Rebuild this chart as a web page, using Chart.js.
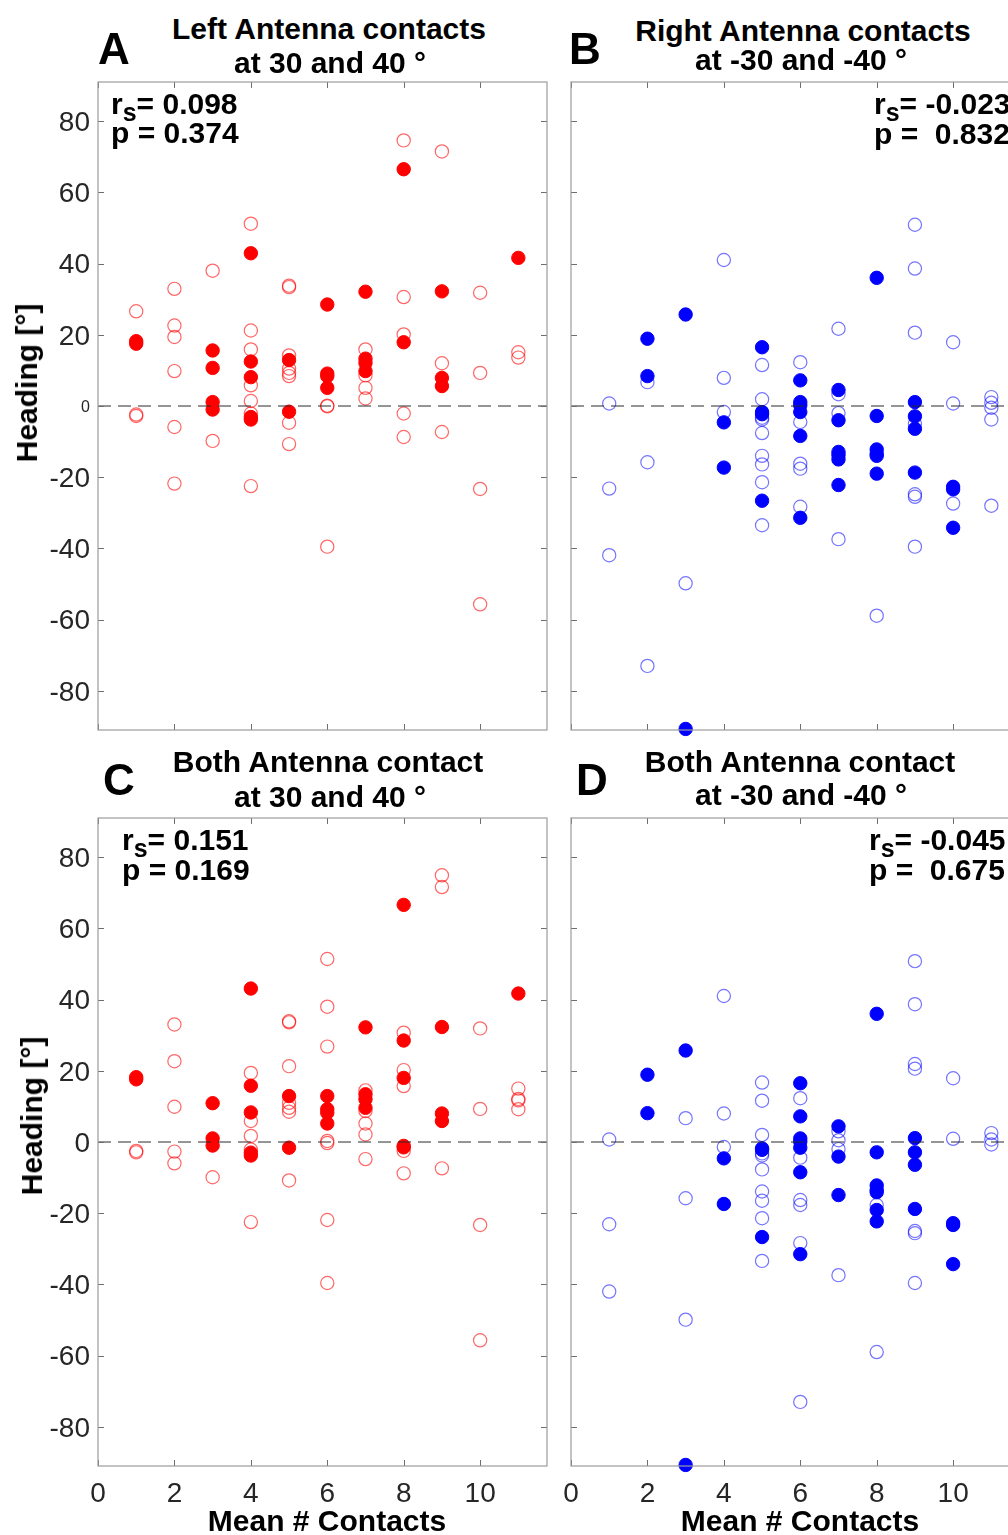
<!DOCTYPE html>
<html>
<head>
<meta charset="utf-8">
<script src="https://cdn.jsdelivr.net/npm/chart.js@4.4.1/dist/chart.umd.min.js"></script>
<style>
  html, body { margin: 0; padding: 0; width: 1008px; height: 1535px; overflow: hidden; background: #fff; }
  body { position: relative; font-family: "Liberation Sans", Arial, Helvetica, sans-serif; color: #000; }
  canvas { position: absolute; }
  .lbl { position: absolute; white-space: pre; font-weight: bold; transform: translate(-50%, -50%); line-height: 1; }
  .title { font-size: 30px; }
  .letter { font-size: 44px; }
  .axt { font-size: 30px; }
  .stat { position: absolute; white-space: pre; font-weight: bold; font-size: 30px; }
  .stat sub { font-size: 25px; vertical-align: baseline; position: relative; top: 7px; line-height: 0; }
</style>
</head>
<body>
<canvas id="cA"></canvas>
<canvas id="cB"></canvas>
<canvas id="cC"></canvas>
<canvas id="cD"></canvas>

<div class="lbl letter" style="left:114px;top:49px">A</div>
<div class="lbl letter" style="left:585px;top:49px">B</div>
<div class="lbl letter" style="left:119px;top:780px">C</div>
<div class="lbl letter" style="left:592px;top:780px">D</div>

<div class="lbl title" style="left:329px;top:29px">Left Antenna contacts</div>
<div class="lbl title" style="left:330px;top:63px">at 30 and 40 °</div>
<div class="lbl title" style="left:803px;top:31px">Right Antenna contacts</div>
<div class="lbl title" style="left:801px;top:60px">at -30 and -40 °</div>
<div class="lbl title" style="left:328px;top:762px">Both Antenna contact</div>
<div class="lbl title" style="left:330px;top:797px">at 30 and 40 °</div>
<div class="lbl title" style="left:800px;top:762px">Both Antenna contact</div>
<div class="lbl title" style="left:801px;top:795px">at -30 and -40 °</div>

<div class="stat" style="left:111px;top:89px;line-height:29px">r<sub>s</sub>= 0.098
p = 0.374</div>
<div class="stat" style="left:874px;top:89px;line-height:30px">r<sub>s</sub>= -0.023
p =  0.832</div>
<div class="stat" style="left:122px;top:825px;line-height:30px">r<sub>s</sub>= 0.151
p = 0.169</div>
<div class="stat" style="left:869px;top:825px;line-height:30px">r<sub>s</sub>= -0.045
p =  0.675</div>

<div class="lbl axt" style="left:27px;top:383px;transform:translate(-50%,-50%) rotate(-90deg)">Heading [°]</div>
<div class="lbl axt" style="left:32px;top:1116px;transform:translate(-50%,-50%) rotate(-90deg)">Heading [°]</div>
<div class="lbl axt" style="left:327px;top:1521px">Mean # Contacts</div>
<div class="lbl axt" style="left:800px;top:1521px">Mean # Contacts</div>

<script>
// axis ticks
const xTicks = [0, 2, 4, 6, 8, 10];
const yTicks = [-80, -60, -40, -20, 0, 20, 40, 60, 80];

// [mean # contacts, heading] - filled = solid markers, open = hollow markers
const leftFilled = [
  [1, 18.2], [1, 17.5],
  [3, 15.6], [3, 10.7], [3, 1.1], [3, -1.0],
  [4, 42.9], [4, 12.5], [4, 8.1], [4, -3.1], [4, -3.8],
  [5, 12.9], [5, -1.6],
  [6, 28.5], [6, 9.1], [6, 8.4], [6, 5.1],
  [7, 32.1], [7, 13.3], [7, 12.1], [7, 9.8],
  [8, 66.5], [8, 17.9],
  [9, 32.2], [9, 7.9], [9, 5.6],
  [11, 41.6]
];
const leftOpen = [
  [1, 26.6], [1, -2.4], [1, -2.8],
  [2, 32.9], [2, 22.6], [2, 19.4], [2, 9.8], [2, -5.9], [2, -21.8],
  [3, 38.0], [3, -9.8],
  [4, 51.2], [4, 21.2], [4, 15.9], [4, 5.8], [4, 1.4], [4, -2.1], [4, -22.5],
  [5, 33.4], [5, 33.8], [5, 14.2], [5, 10.5], [5, 9.3], [5, 8.4], [5, -4.7], [5, -10.7],
  [6, 0.1], [6, -0.1], [6, -39.5],
  [7, 15.9], [7, 8.6], [7, 5.1], [7, 2.1],
  [8, 74.6], [8, 30.6], [8, 20.1], [8, -2.1], [8, -8.7],
  [9, 71.5], [9, 12.0], [9, -7.3],
  [10, 31.8], [10, 9.3], [10, -23.3], [10, -55.7],
  [11, 15.1], [11, 13.6]
];

const rightFilled = [
  [2, 18.9], [2, 8.4],
  [3, 25.7], [3, -90.7],
  [4, -4.6], [4, -17.3],
  [5, 16.5], [5, -1.7], [5, -2.3], [5, -26.6],
  [6, 7.2], [6, 1.1], [6, 0.2], [6, -1.7], [6, -8.4], [6, -31.4],
  [7, 4.5], [7, -4.0], [7, -12.9], [7, -13.8], [7, -15.0], [7, -22.2],
  [8, 36.0], [8, -2.8], [8, -12.2], [8, -13.4], [8, -14.0], [8, -19.0],
  [9, 1.1], [9, -2.9], [9, -6.4], [9, -18.7],
  [10, -22.7], [10, -23.4], [10, -34.2]
];
const rightOpen = [
  [1, 0.7], [1, -23.2], [1, -41.9],
  [2, 6.7], [2, -15.8], [2, -73.0],
  [3, -49.8],
  [4, 41.0], [4, 7.9], [4, -1.7],
  [5, 11.5], [5, 1.9], [5, -3.3], [5, -3.8], [5, -7.6], [5, -14.0], [5, -16.4], [5, -21.4], [5, -33.5],
  [6, 12.3], [6, -4.5], [6, -16.2], [6, -17.6], [6, -28.3],
  [7, 21.7], [7, 3.3], [7, -2.0], [7, -37.4],
  [8, -58.9],
  [9, 50.9], [9, 38.6], [9, 20.6], [9, -5.0], [9, -24.8], [9, -25.5], [9, -39.5],
  [10, 17.9], [10, 0.7], [10, -27.4],
  [11, 2.5], [11, 0.9], [11, -0.5], [11, -3.8], [11, -28.0]
];

const bothPosFilled = [
  [1, 18.2], [1, 17.6],
  [3, 10.9], [3, 1.0], [3, -1.0],
  [4, 43.1], [4, 15.8], [4, 8.3], [4, -3.0], [4, -3.8],
  [5, 12.9], [5, -1.6],
  [6, 12.9], [6, 9.2], [6, 8.2], [6, 5.2],
  [7, 32.2], [7, 13.4], [7, 12.0], [7, 9.6],
  [8, 66.6], [8, 28.5], [8, 18.0], [8, -1.1], [8, -1.5],
  [9, 32.3], [9, 8.0], [9, 5.9],
  [11, 41.7]
];
const bothPosOpen = [
  [1, -2.5], [1, -2.9],
  [2, 33.0], [2, 22.7], [2, 9.9], [2, -2.7], [2, -6.0],
  [3, -9.9],
  [4, 19.4], [4, 5.9], [4, 1.7], [4, -2.1], [4, -22.5],
  [5, 33.6], [5, 33.9], [5, 21.3], [5, 11.0], [5, 9.6], [5, 8.5], [5, -10.8],
  [6, 51.4], [6, 38.0], [6, 26.8], [6, 0.3], [6, -0.3], [6, -21.9], [6, -39.6],
  [7, 14.5], [7, 8.7], [7, 5.2], [7, 2.1], [7, -4.8],
  [8, 30.7], [8, 20.2], [8, 15.7], [8, -2.5], [8, -8.8],
  [9, 74.9], [9, 71.6], [9, -7.4],
  [10, 31.9], [10, 9.3], [10, -23.3], [10, -55.7],
  [11, 15.0], [11, 12.1], [11, 11.7], [11, 9.2]
];

const bothNegFilled = [
  [2, 18.9], [2, 8.1],
  [3, 25.7], [3, -90.7],
  [4, -4.6], [4, -17.4],
  [5, -1.8], [5, -2.2], [5, -26.7],
  [6, 16.5], [6, 7.2], [6, 1.0], [6, 0.1], [6, -1.6], [6, -8.5], [6, -31.5],
  [7, 4.4], [7, -4.1], [7, -14.9],
  [8, 36.0], [8, -2.9], [8, -12.2], [8, -13.5], [8, -14.1], [8, -19.1], [8, -22.3],
  [9, 1.1], [9, -2.9], [9, -6.4], [9, -18.8],
  [10, -22.8], [10, -23.3], [10, -34.3]
];
const bothNegOpen = [
  [1, 0.7], [1, -23.1], [1, -42.0],
  [3, 6.7], [3, -15.8], [3, -49.9],
  [4, 41.0], [4, 8.0], [4, -1.4],
  [5, 16.7], [5, 11.6], [5, 2.0], [5, -3.2], [5, -3.8], [5, -7.7], [5, -13.9], [5, -16.5], [5, -21.4], [5, -33.4],
  [6, 12.3], [6, -4.4], [6, -16.3], [6, -17.7], [6, -28.4], [6, -73.0],
  [7, 3.0], [7, 0.5], [7, -2.0], [7, -37.4],
  [8, -17.7], [8, -59.0],
  [9, 50.8], [9, 38.7], [9, 21.9], [9, 20.6], [9, -25.0], [9, -25.6], [9, -39.6],
  [10, 17.9], [10, 0.9],
  [11, 2.5], [11, 0.7], [11, -0.7]
];

const RED = { solid: '#ff0000', hollow: 'rgba(255, 0, 0, 0.6)' };
const BLUE = { solid: '#0000ff', hollow: 'rgba(0, 0, 255, 0.55)' };

const plotW = 449, plotH = 648;

const panels = [
  { id: 'cA', left: 98, top: 82, filled: leftFilled, open: leftOpen, col: RED, yLabels: true, xLabels: false, smallZero: true },
  { id: 'cB', left: 571, top: 82, filled: rightFilled, open: rightOpen, col: BLUE, yLabels: false, xLabels: false },
  { id: 'cC', left: 98, top: 818, filled: bothPosFilled, open: bothPosOpen, col: RED, yLabels: true, xLabels: true },
  { id: 'cD', left: 571, top: 818, filled: bothNegFilled, open: bothNegOpen, col: BLUE, yLabels: false, xLabels: true }
];

// box, inward ticks and dashed zero line, like a matlab axes
const framePlugin = {
  id: 'frame',
  afterDatasetsDraw(chart) {
    const { ctx, chartArea: a, scales } = chart;
    const xs = scales.x, ys = scales.y;
    ctx.save();
    // zero line
    const y0 = ys.getPixelForValue(0);
    ctx.strokeStyle = '#2a2a2a';
    ctx.lineWidth = 1;
    ctx.setLineDash([13, 7]);
    ctx.beginPath();
    ctx.moveTo(a.left, y0);
    ctx.lineTo(a.right, y0);
    ctx.stroke();
    ctx.setLineDash([]);
    // ticks
    ctx.strokeStyle = '#6e6e6e';
    const tl = 6;
    ctx.beginPath();
    xTicks.forEach(v => {
      const px = Math.round(xs.getPixelForValue(v)) + 0.5;
      ctx.moveTo(px, a.top); ctx.lineTo(px, a.top + tl);
      ctx.moveTo(px, a.bottom); ctx.lineTo(px, a.bottom - tl);
    });
    yTicks.forEach(v => {
      const py = Math.round(ys.getPixelForValue(v)) + 0.5;
      ctx.moveTo(a.left, py); ctx.lineTo(a.left + tl, py);
      ctx.moveTo(a.right, py); ctx.lineTo(a.right - tl, py);
    });
    ctx.stroke();
    // box
    ctx.strokeStyle = '#9c9c9c';
    ctx.lineWidth = 1.2;
    ctx.strokeRect(a.left, a.top, a.right - a.left, a.bottom - a.top);
    ctx.restore();
  }
};

const noPad = s => { s.paddingTop = 0; s.paddingBottom = 0; s.paddingLeft = 0; s.paddingRight = 0; };

panels.forEach(p => {
  const cv = document.getElementById(p.id);
  const W = plotW + 110, H = plotH + 60;
  cv.width = W; cv.height = H;
  cv.style.left = (p.left - 100) + 'px';
  cv.style.top = (p.top - 10) + 'px';
  cv.style.width = W + 'px';
  cv.style.height = H + 'px';

  new Chart(cv.getContext('2d'), {
    type: 'scatter',
    data: {
      datasets: [
        {
          label: 'filled',
          data: p.filled.map(d => ({ x: d[0], y: d[1] })),
          backgroundColor: p.col.solid,
          borderColor: p.col.solid,
          borderWidth: 1,
          pointRadius: 6.7,
          clip: false
        },
        {
          label: 'open',
          data: p.open.map(d => ({ x: d[0], y: d[1] })),
          backgroundColor: 'rgba(0,0,0,0)',
          borderColor: p.col.hollow,
          borderWidth: 1.2,
          pointRadius: 6.6,
          clip: false
        }
      ]
    },
    options: {
      responsive: false,
      animation: false,
      devicePixelRatio: 1,
      layout: { padding: { left: 0, top: 10, right: 10, bottom: 0 } },
      plugins: { legend: { display: false }, tooltip: { enabled: false } },
      scales: {
        x: {
          type: 'linear',
          min: 0,
          max: 11.75,
          afterFit: s => { s.height = 50; noPad(s); },
          afterBuildTicks: s => { s.ticks = xTicks.map(v => ({ value: v })); },
          grid: { display: false, drawTicks: false },
          border: { display: false },
          ticks: {
            display: p.xLabels,
            padding: 11,
            maxRotation: 0,
            color: '#262626',
            font: { family: '"Liberation Sans", Arial, sans-serif', size: 28 }
          }
        },
        y: {
          type: 'linear',
          min: -91,
          max: 91,
          afterFit: s => { s.width = 100; noPad(s); },
          afterBuildTicks: s => { s.ticks = yTicks.map(v => ({ value: v })); },
          grid: { display: false, drawTicks: false },
          border: { display: false },
          ticks: {
            display: p.yLabels,
            padding: 8,
            labelOffset: 2,
            color: '#262626',
            font: c => ({
              family: '"Liberation Sans", Arial, sans-serif',
              size: (p.smallZero && c.tick && c.tick.value === 0) ? 16 : 28
            })
          }
        }
      }
    },
    plugins: [framePlugin]
  });
});
</script>
</body>
</html>
